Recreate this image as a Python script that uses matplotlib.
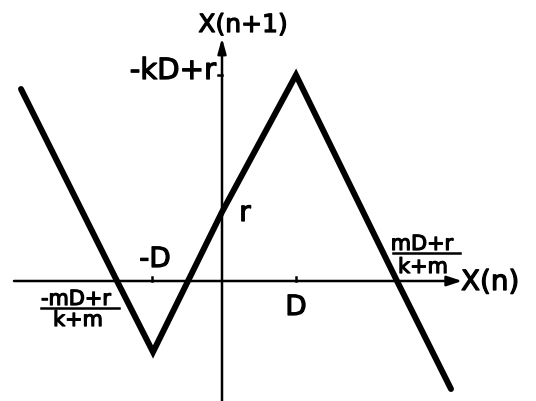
import matplotlib
matplotlib.use("Agg")
import matplotlib.pyplot as plt
import matplotlib.patheffects as pe

# piecewise-linear map X(n) -> X(n+1), vertices (hand-drawn, arbitrary units)
xs = [-201, -105, -69, -34, 0, 74, 175, 229]
ys = [192, 0, -71, 0, 69, 206, 0, -108]

# special positions on the axes
D_pos = 74
minus_D_pos = -70
r_val = 69
peak_val = 206

fig = plt.figure(figsize=(5.36, 4.01), dpi=100)
ax = fig.add_axes([0, 0, 1, 1])
ax.set_xlim(-222, 314)
ax.set_ylim(-120, 281)
ax.axis("off")

fam = ["DejaVu Sans"]
thick = [pe.withStroke(linewidth=0.9, foreground="black")]

# axes
ax.annotate("", xy=(240, 0), xytext=(-208, 0),
            arrowprops=dict(arrowstyle="-|>,head_length=0.9,head_width=0.3",
                            color="black", lw=1.8, shrinkA=0, shrinkB=0))
ax.annotate("", xy=(0, 243), xytext=(0, -120),
            arrowprops=dict(arrowstyle="-|>,head_length=0.9,head_width=0.25",
                            color="black", lw=1.8, shrinkA=0, shrinkB=0))

# ticks
ax.plot([D_pos, D_pos], [0, 4], color="black", lw=1.8)
ax.plot([minus_D_pos, minus_D_pos], [0, 4], color="black", lw=1.8)
ax.plot([-4, 0], [peak_val, peak_val], color="black", lw=1.8)

# map
ax.plot(xs, ys, color="black", lw=4.3, solid_joinstyle="miter", solid_capstyle="round")

def lab(x, y, s, fs, ha="center", va="center"):
    ax.text(x, y, s, fontsize=fs, family=fam, ha=ha, va=va, path_effects=thick)

lab(21, 256, "X(n+1)", 18)
lab(-6, peak_val + 4, "-kD+r", 21, ha="right")
lab(23, 68, "r", 20)
lab(minus_D_pos + 3, 22, "-D", 20)
lab(D_pos, -26, "D", 20)
lab(239, -1, "X(n)", 20, ha="left")

# fraction labels
fs2 = 15
lab(-146, -18, "-mD+r", fs2)
ax.plot([-181, -103], [-27, -27], color="black", lw=1.8)
lab(-144, -39, "k+m", fs2)

lab(200, 37, "mD+r", fs2)
ax.plot([171, 238], [28, 28], color="black", lw=1.8)
lab(201, 14, "k+m", fs2)

fig.savefig("out.png", dpi=100)
